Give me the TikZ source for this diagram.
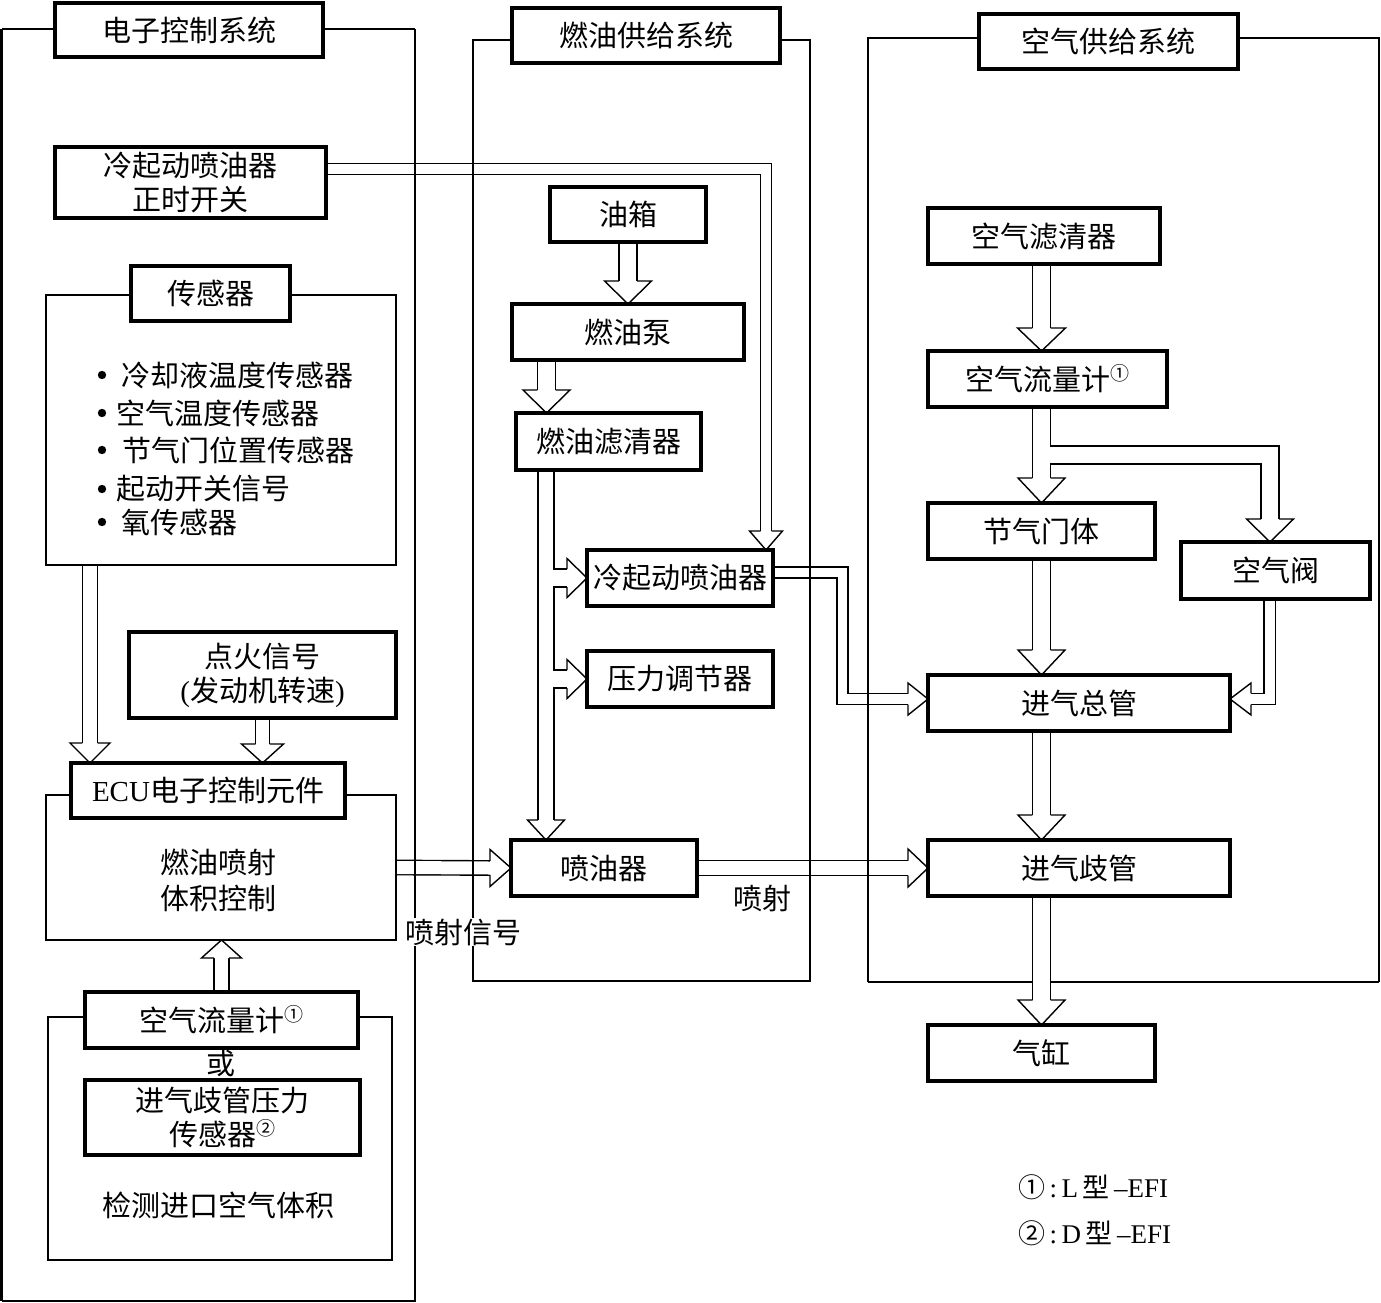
\documentclass[tikz,border=0pt]{standalone}
\usepackage{fontspec}
\setmainfont{Noto Sans CJK SC}
\newfontfamily\latf{Liberation Serif}
\usetikzlibrary{calc}
\pgfdeclarelayer{bg}
\pgfdeclarelayer{mid}
\pgfsetlayers{bg,mid,main}
\newcommand\myfs{\fontsize{29}{34}\selectfont}
\newcommand\csup[1]{\raisebox{10pt}{\fontsize{19}{19}\selectfont #1}}
\tikzset{
  box/.style={draw, line width=3.5pt, fill=white, inner sep=0pt, outer sep=0pt, align=center, font=\myfs},
  frmbox/.style={draw, line width=1.4pt, inner sep=0pt, outer sep=0pt},
  frm/.style={line width=1.4pt},
  thinl/.style={line width=1.4pt, line join=miter},
  po/.style={line width={#1pt+2.8pt}, line join=miter, line cap=butt},
  pin/.style={white, line width={#1pt}, line join=miter, line cap=butt},
  txt/.style={inner sep=0pt, font=\myfs, align=center},
}
\newcommand\bx[6]{\node[box, minimum width={#4-#2}, minimum height={#5-#3}] (#1) at ({(#2+#4)/2},{(#3+#5)/2}) {#6};}
\newcommand\fr[5]{\node[frmbox, minimum width={#4-#2}, minimum height={#5-#3}] (#1) at ({(#2+#4)/2},{(#3+#5)/2}) {};}
% head: #1 tip, #2 angle, #3 half shaft, #4 half head, #5 length
\newcommand\head[5]{\begin{scope}[shift={#1},rotate=#2]
\fill[white] (-#5,-#4) -- (0,0) -- (-#5,#4) -- cycle;
\draw[thinl] (-#5,-#3) -- (-#5,-#4) -- (0,0) -- (-#5,#4) -- (-#5,#3);
\end{scope}}
\newcommand\PIPES[2]{%
  % timing switch -> cold start injector
  \draw[#1=9.5] ($(tsw.east)+(0,-13.5)$) -| ($(csitip)+(0,-19)$);
  % sensors -> ECU
  \draw[#1=14] (sframe.south -| tb) -- ($(tb)+(0,-20)$);
  % ignition -> ECU
  \draw[#1=12.6] (ign.south) -- ($(ign.south |- ecu.north)+(0,-19)$);
  % ECU -> injector
  \draw[#1=13] (eframe.east) -- ($(inj.west)+(-21,0)$);
  % air flow meter -> ECU
  \draw[#1=13.6] (afm1.north) -- ($(afm1.north |- eframe.south)+(0,18)$);
  % tank -> pump
  \draw[#1=16.5] (tank.south) -- ($(tank.south |- pump.north)+(0,-23)$);
  % pump -> filter
  \draw[#1=17] (gx) -- ($(gx |- filt.north)+(0,-23)$);
  % filter -> injector trunk and branches
  \draw[#1=14.5] (tx) -- ($(tx |- inj.north)+(0,-20)$);
  \draw[#1=16.5] (tx |- csi.west) -- ($(csi.west)+(-20,0)$);
  \draw[#1=16.5] (tx |- preg.west) -- ($(preg.west)+(-20,0)$);
  % cold start injector -> plenum
  \draw[#1=9.5] ($(csi.east)+(0,-5.5)$) -| (ibend) |- ($(plen.west)+(-20,-4)$);
  % injector -> manifold
  \draw[#1=13.5] (inj.east) -- ($(man.west)+(-20,0)$);
  % air side
  \draw[#1=17] (ax |- acl.south) -- ($(ax |- afm.north)+(0,-23)$);
  \draw[#1=17] (ax |- afm.south) -- ($(ax |- thr.north)+(0,-25)$);
  \draw[#1=16.5] ($(ax |- afm.south)+(0,48)$) -| ($(av.north)+(-5.5,-23)$);
  \draw[#1=17] (ax |- thr.south) -- ($(ax |- plen.north)+(0,-25)$);
  \draw[#1=10] ($(av.south)+(-6,0)$) |- ($(plen.east)+(21,-4)$);
  \draw[#1=17] (ax |- plen.south) -- ($(ax |- man.north)+(0,-25)$);
  \draw[#1=16.5] (ax |- man.south) -- ($(ax |- cyl.north)+(0,-25)$);
}
\begin{document}
\begin{tikzpicture}[x=1pt,y=-1pt]
\useasboundingbox (0,0) rectangle (1381,1303);

% ---------- frames ----------
\begin{pgfonlayer}{mid}
\draw[frm] (415,29) -- (1.5,29);
\draw[line width=3pt] (1.5,29) -- (1.5,1301);
\draw[frm] (1.5,1301) -- (415,1301) -- (415,29);
\draw[frm] (473,40) rectangle (810,981);
\draw[frm] (868,982) -- (868,38) -- (1379,38) -- (1379,982);
\fr{sframe}{46}{295}{396}{565}
\fr{eframe}{46}{795}{396}{940}
\fr{bframe}{48}{1017}{392}{1260}
\end{pgfonlayer}

% ---------- boxes ----------
\bx{ttl1}{55}{3}{323}{57}{电子控制系统}
\bx{ttl2}{512}{8}{780}{63}{燃油供给系统}
\bx{ttl3}{979}{14}{1238}{69}{空气供给系统}
\bx{tsw}{55}{147}{326}{218}{冷起动喷油器\\正时开关}
\bx{sens}{131}{266}{290}{321}{传感器}
\bx{ign}{129}{632}{396}{718}{点火信号\\{\latf(}发动机转速{\latf)}}
\bx{ecu}{71}{763}{345}{818}{{\latf ECU}电子控制元件}
\bx{afm1}{85}{992}{358}{1048}{空气流量计\csup{①}}
\bx{map}{85}{1080}{360}{1155}{进气歧管压力\\传感器\csup{②}}
\bx{tank}{550}{187}{706}{242}{油箱}
\bx{pump}{512}{304}{744}{360}{燃油泵}
\bx{filt}{516}{413}{701}{470}{燃油滤清器}
\bx{csi}{587}{550}{773}{606}{冷起动喷油器}
\bx{preg}{587}{651}{773}{707}{压力调节器}
\bx{inj}{511}{840}{697}{896}{喷油器}
\bx{acl}{928}{208}{1160}{264}{空气滤清器}
\bx{afm}{928}{351}{1167}{407}{空气流量计\csup{①}}
\bx{thr}{928}{503}{1155}{559}{节气门体}
\bx{av}{1181}{542}{1370}{599}{空气阀}
\bx{plen}{928}{675}{1230}{731}{进气总管}
\bx{man}{928}{840}{1230}{896}{进气歧管}
\bx{cyl}{928}{1025}{1155}{1081}{气缸}

% ---------- free texts ----------
\foreach \yy in {375,413,450,489,522} \fill (102,\yy) circle (4.2);
\node[txt, anchor=west] (s1) at (121,375) {冷却液温度传感器};
\node[txt, anchor=west] (s2) at (116,413) {空气温度传感器};
\node[txt, anchor=west] (s3) at (122,450) {节气门位置传感器};
\node[txt, anchor=west] (s4) at (116,489) {起动开关信号};
\node[txt, anchor=west] (s5) at (121,522) {氧传感器};
\node[txt, font=\fontsize{29}{36}\selectfont] (ecut) at (218,880) {燃油喷射\\体积控制};
\node[txt, fill=white, inner sep=1pt] (sig) at (463,932) {喷射信号};
\node[txt] (spray) at (762,898) {喷射};
\node[txt] (or) at (221,1064) {或};
\node[txt] (det) at (218,1205) {检测进口空气体积};
\node[txt, anchor=west, font=\fontsize{27}{30}\selectfont] (n1) at (1018,1187) {①{\latf\,:\,L\,}型{\latf\,–EFI}};
\node[txt, anchor=west, font=\fontsize{27}{30}\selectfont] (n2) at (1018,1233) {②{\latf\,:\,D\,}型{\latf\,–EFI}};

% ---------- pipe coordinates ----------
\coordinate (csitip) at ($(csi.north east)+(-7,0)$);
\coordinate (tb) at ($(ecu.north west)+(19,0)$);
\coordinate (gx) at ($(pump.south west)+(34.5,0)$);
\coordinate (tx) at ($(filt.south west)+(30,0)$);
\coordinate (ibend) at ($(csi.east)+(69.5,62)$);
\coordinate (ax) at (thr.north);

% ---------- pipes ----------
\begin{pgfonlayer}{bg}
\draw[frm] (868,982) -- (1379,982);
\PIPES{po}{}
\PIPES{pin}{}
\head{(csitip)}{-90}{5.5}{16.5}{19}
\head{(tb)}{-90}{7.7}{20}{20}
\head{(ign.south |- ecu.north)}{-90}{7}{21}{19}
\head{(inj.west)}{0}{7.2}{18.5}{21}
\head{(afm1.north |- eframe.south)}{90}{7.5}{20}{18}
\head{(tank.south |- pump.north)}{-90}{9}{23.5}{23}
\head{(gx |- filt.north)}{-90}{9.2}{23.5}{23}
\head{(tx |- inj.north)}{-90}{8}{18.5}{20}
\head{(csi.west)}{0}{9}{19.5}{20}
\head{(preg.west)}{0}{9}{19.5}{20}
\head{($(plen.west)+(0,-4)$)}{0}{5.5}{16}{20}
\head{(man.west)}{0}{7.5}{19}{20}
\head{(ax |- afm.north)}{-90}{9.2}{24}{23}
\head{(ax |- thr.north)}{-90}{9.2}{23.5}{25}
\head{($(av.north)+(-5.5,0)$)}{-90}{9}{23.5}{23}
\head{(ax |- plen.north)}{-90}{9.2}{23.5}{25}
\head{($(plen.east)+(0,-4)$)}{180}{5.7}{16}{21}
\head{(ax |- man.north)}{-90}{9.2}{23.5}{25}
\head{(ax |- cyl.north)}{-90}{9}{23.5}{25}
\end{pgfonlayer}
\end{tikzpicture}
\end{document}
